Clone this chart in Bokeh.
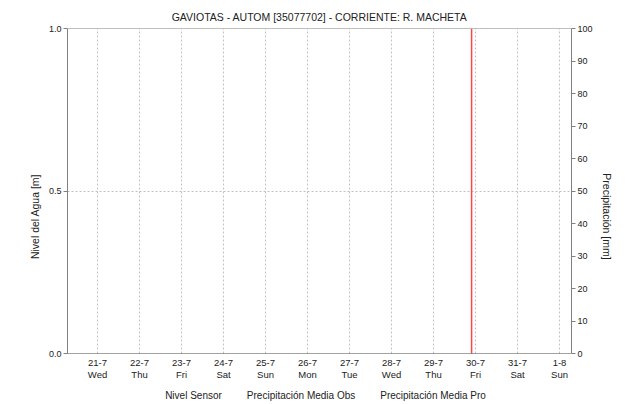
import pandas as pd
from bokeh.plotting import figure
from bokeh.models import (Range1d, LinearAxis, FixedTicker, Span, Legend, LegendItem,
                          ColumnDataSource, NumeralTickFormatter)
from bokeh.core.properties import value
from bokeh.embed import file_html
from bokeh.resources import INLINE

title = "GAVIOTAS - AUTOM [35077702] - CORRIENTE: R. MACHETA"
day_labels = ["21-7", "22-7", "23-7", "24-7", "25-7", "26-7", "27-7", "28-7", "29-7", "30-7", "31-7", "1-8"]
weekday_labels = ["Wed", "Thu", "Fri", "Sat", "Sun", "Mon", "Tue", "Wed", "Thu", "Fri", "Sat", "Sun"]
day_dates = pd.date_range("2021-07-21", periods=12, freq="D")
x_start = pd.Timestamp("2021-07-20 06:50")
x_end = pd.Timestamp("2021-08-01 06:50")
now_marker = pd.Timestamp("2021-07-29 21:45")

# series (no data recorded in the displayed period)
nivel_time = []
nivel_value = []
precip_obs_time = []
precip_obs_value = []
precip_pro_time = []
precip_pro_value = []

left_ticks = [0.0, 0.5, 1.0]
right_ticks = [0, 10, 20, 30, 40, 50, 60, 70, 80, 90, 100]
level_max = 1.0
precip_max = 100.0

def ms(t):
    return pd.Timestamp(t).value / 1e6

FONT = "Liberation Sans"

# geometry: data area 325 px tall, with 51 px below it for date labels and legend
PLOT_H = 325
BELOW = 51
pad = BELOW / PLOT_H

p = figure(width=628, height=404, output_backend="svg", toolbar_location=None,
           x_axis_type=None, x_range=Range1d(ms(x_start), ms(x_end)),
           y_range=Range1d(-pad * level_max, level_max),
           frame_width=504, frame_height=PLOT_H + BELOW,
           min_border_left=67, min_border_right=57, min_border_top=28, min_border_bottom=0)
p.extra_y_ranges = {"precip": Range1d(-pad * precip_max, precip_max)}

p.title.text = title
p.title.align = "center"
p.title.text_font = FONT
p.title.text_font_size = "10.5px"
p.title.text_font_style = "normal"
p.title.text_color = "#222222"
p.title.offset = 0
p.title.standoff = 11

p.outline_line_color = None

# left axis
p.yaxis.bounds = (0, level_max)
p.yaxis.ticker = FixedTicker(ticks=left_ticks)
p.yaxis.formatter = NumeralTickFormatter(format="0.0")
p.yaxis.axis_label = "Nivel del Agua [m]"
p.yaxis.axis_label_text_font = FONT
p.yaxis.axis_label_text_font_size = "10.5px"
p.yaxis.axis_label_text_font_style = "normal"
p.yaxis.axis_label_text_color = "#222222"
p.yaxis.axis_label_standoff = 5
p.yaxis.major_label_text_font = FONT
p.yaxis.major_label_text_font_size = "9px"
p.yaxis.major_label_text_color = "#222222"
p.yaxis.major_label_standoff = 2
p.yaxis.axis_line_color = "#808080"
p.yaxis.major_tick_line_color = "#808080"
p.yaxis.major_tick_in = 0
p.yaxis.major_tick_out = 4
p.yaxis.minor_tick_line_color = None

# right axis
raxis = LinearAxis(y_range_name="precip", ticker=FixedTicker(ticks=right_ticks),
                   axis_label="Precipitación [mm]", bounds=(0, precip_max))
raxis.axis_label_text_font = FONT
raxis.axis_label_text_font_size = "10.5px"
raxis.axis_label_text_font_style = "normal"
raxis.axis_label_text_color = "#222222"
raxis.axis_label_standoff = 5
raxis.major_label_text_font = FONT
raxis.major_label_text_font_size = "9px"
raxis.major_label_text_color = "#222222"
raxis.major_label_standoff = 2
raxis.axis_line_color = "#808080"
raxis.major_tick_line_color = "#808080"
raxis.major_tick_in = 0
raxis.major_tick_out = 4
raxis.minor_tick_line_color = None
p.add_layout(raxis, "right")

# grids and borders
p.xgrid.visible = False
p.ygrid.ticker = FixedTicker(ticks=[0.5])
p.ygrid.grid_line_color = "#c0c0c0"
p.ygrid.grid_line_dash = "2 2"
p.add_layout(Span(location=level_max, dimension="width", line_color="#808080", line_width=1))
p.add_layout(Span(location=0, dimension="width", line_color="#444444", line_dash="1 1", line_width=1))

xticks = [ms(d) for d in day_dates]
grid_src = ColumnDataSource(dict(x=xticks, y0=[0] * len(xticks), y1=[level_max] * len(xticks),
                                 day=day_labels, wd=weekday_labels))
p.segment(x0="x", y0="y0", x1="x", y1="y1", source=grid_src, line_color="#c0c0c0",
          line_dash="2 2", line_width=1, level="underlay")

# date labels (two lines) under the data area
p.text(x="x", y=-9 / PLOT_H * level_max, text="day", source=grid_src, text_align="center",
       text_baseline="middle", text_font=value(FONT), text_font_size="9.5px", text_color="#222222")
p.text(x="x", y=-21 / PLOT_H * level_max, text="wd", source=grid_src, text_align="center",
       text_baseline="middle", text_font=value(FONT), text_font_size="9.5px", text_color="#222222")

# series
src_n = ColumnDataSource(dict(x=[ms(t) for t in nivel_time], y=nivel_value))
src_o = ColumnDataSource(dict(x=[ms(t) for t in precip_obs_time], y=precip_obs_value))
src_p = ColumnDataSource(dict(x=[ms(t) for t in precip_pro_time], y=precip_pro_value))
r_n = p.line("x", "y", source=src_n, line_color="#0000ff", line_width=1)
r_o = p.vbar(x="x", top="y", width=3600000, source=src_o, fill_color="#66ffff",
             line_color=None, y_range_name="precip")
r_p = p.vbar(x="x", top="y", width=3600000, source=src_p, fill_color="#44ccc4",
             line_color=None, y_range_name="precip")

# current time marker
p.segment(x0=[ms(now_marker)], y0=[0], x1=[ms(now_marker)], y1=[level_max],
          line_color="#ff4444", line_width=1.5)

legend = Legend(items=[LegendItem(label="Nivel Sensor", renderers=[r_n]),
                       LegendItem(label="Precipitación Media Obs", renderers=[r_o]),
                       LegendItem(label="Precipitación Media Pro", renderers=[r_p])],
                orientation="horizontal", location="bottom_center",
                label_text_font=FONT, label_text_font_size="10px", label_text_color="#222222",
                label_height=10, glyph_width=10, glyph_height=12, spacing=12, label_standoff=3,
                padding=0, margin=3, border_line_color=None, background_fill_alpha=0)
p.add_layout(legend)

open("out.html", "w").write(file_html(p, INLINE))
